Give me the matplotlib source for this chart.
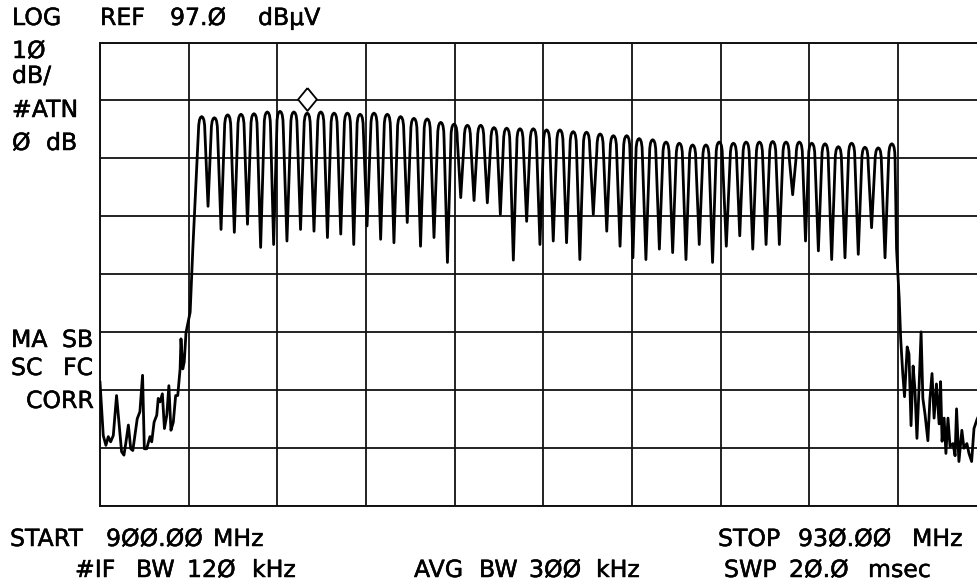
import matplotlib
matplotlib.use("Agg")
import matplotlib.pyplot as plt
import matplotlib.patheffects as pe
from matplotlib.transforms import offset_copy

# spectrum analyser screen: 900-930 MHz, REF 97 dBuV, 10 dB/div
start_mhz, stop_mhz = 900.0, 930.0
ref_level, db_per_div = 97.0, 10.0

# channel peaks (MHz, dBuV)
peak_freq = [903.44, 903.87, 904.32, 904.77, 905.21, 905.66, 906.09, 906.56, 907.01, 907.47,
             907.92, 908.37, 908.80, 909.27, 909.72, 910.17, 910.62, 911.07, 911.53, 911.98,
             912.43, 912.88, 913.33, 913.76, 914.21, 914.66, 915.11, 915.56, 916.01, 916.46,
             916.92, 917.37, 917.82, 918.24, 918.70, 919.15, 919.60, 920.05, 920.50, 920.95,
             921.43, 921.86, 922.31, 922.76, 923.21, 923.66, 924.08, 924.53, 924.98, 925.43,
             925.88, 926.33, 926.79]
peak_level = [84.2, 84.0, 84.5, 84.6, 84.7, 85.0, 85.1, 85.0, 84.8, 85.0,
              84.8, 84.8, 84.6, 84.8, 84.6, 84.2, 83.9, 83.8, 83.2, 82.9,
              82.7, 82.7, 82.3, 82.2, 82.1, 82.1, 81.9, 81.9, 81.6, 81.5,
              81.2, 80.9, 80.9, 80.4, 80.2, 79.8, 79.6, 79.3, 79.3, 79.8,
              79.6, 79.8, 79.8, 79.9, 79.8, 79.8, 79.6, 79.5, 79.0, 79.6,
              78.9, 78.8, 79.5]
# dips between neighbouring channels
trough_level = [68.7, 64.7, 64.2, 65.6, 61.6, 62.1, 62.7, 64.7, 64.4, 63.3,
                63.9, 62.1, 65.3, 63.0, 62.4, 65.9, 61.8, 63.3, 59.0, 70.2,
                69.7, 69.3, 67.3, 59.4, 66.1, 62.1, 62.7, 62.4, 59.5, 67.3,
                64.4, 61.8, 59.8, 59.5, 61.3, 60.7, 59.5, 62.1, 59.0, 61.8,
                63.6, 61.3, 62.1, 62.1, 70.7, 62.7, 61.0, 59.5, 59.8, 60.4,
                65.0, 59.8]

# noise floor below and above the band
left_freq = [900.00, 900.11, 900.20, 900.28, 900.36, 900.45, 900.56, 900.64, 900.73, 900.81,
             900.88, 900.96, 901.04, 901.11, 901.18, 901.26, 901.35, 901.44, 901.50, 901.58,
             901.69, 901.75, 901.83, 901.92, 901.97, 902.03, 902.11, 902.18, 902.26, 902.33,
             902.40, 902.48, 902.56, 902.63, 902.71, 902.74, 902.80, 902.85, 902.91, 902.97,
             903.05, 903.10, 903.14]
left_level = [38.3, 29.1, 27.4, 28.9, 28.0, 29.1, 36.0, 31.4, 26.3, 25.7,
              28.0, 30.9, 26.8, 26.5, 29.1, 32.0, 33.2, 39.5, 26.8, 26.8,
              28.9, 28.0, 31.4, 32.6, 35.5, 34.9, 36.3, 30.3, 32.6, 37.7,
              30.0, 31.4, 36.0, 36.0, 40.6, 45.8, 40.6, 41.8, 46.9, 48.4,
              50.4, 56.7, 61.3]
right_freq = [926.95, 927.04, 927.09, 927.16, 927.22, 927.31, 927.37, 927.44, 927.51, 927.57,
              927.64, 927.71, 927.78, 927.84, 927.91, 928.01, 928.08, 928.15, 928.22, 928.30,
              928.39, 928.44, 928.49, 928.56, 928.62, 928.69, 928.76, 928.86, 928.93, 928.98,
              929.06, 929.16, 929.23, 929.33, 929.40, 929.49, 929.57, 929.66, 929.71]
right_level = [61.3, 52.7, 45.8, 39.8, 35.8, 44.4, 43.2, 30.8, 41.1, 37.2,
               28.6, 37.2, 47.0, 35.5, 32.9, 28.2, 35.5, 39.8, 32.1, 38.0,
               31.1, 38.4, 28.1, 32.1, 26.0, 32.1, 27.2, 27.7, 25.6, 33.7,
               24.6, 30.0, 26.9, 27.7, 26.0, 24.6, 30.3, 31.7, 32.3]

marker_channel = 8  # the diamond sits over the 9th channel

# rounded top of each channel (offset MHz, drop dB)
cap_df = [-0.11, -0.10, -0.075, -0.04, 0.0, 0.04, 0.075, 0.10, 0.11]
cap_drop = [2.8, 1.5, 0.6, 0.15, 0.0, 0.15, 0.6, 1.5, 2.8]

trace_f = list(left_freq)
trace_l = list(left_level)
for i, (f, lvl) in enumerate(zip(peak_freq, peak_level)):
    for df, dd in zip(cap_df, cap_drop):
        trace_f.append(f + df)
        trace_l.append(lvl - dd)
    if i < len(trough_level):
        trace_f.append((f + peak_freq[i + 1]) / 2)
        trace_l.append(trough_level[i])
trace_f += right_freq
trace_l += right_level

W, H = 978, 585
fig = plt.figure(figsize=(W / 100, H / 100), dpi=100)
fig.patch.set_facecolor("white")

# screen graticule: left 100px, 88.67px per division (runs past the right edge)
ax_left, ax_top, ax_bottom = 100, 42.5, 505.5
ax = fig.add_axes([ax_left / W, 1 - ax_bottom / H, 10 * 88.67 / W, (ax_bottom - ax_top) / H])
ax.set_xlim(start_mhz, stop_mhz)
ax.set_ylim(ref_level - 8 * db_per_div, ref_level)
ax.set_xticks([start_mhz + 3 * k for k in range(11)])
ax.set_yticks([ref_level - db_per_div * k for k in range(9)])
ax.tick_params(length=0, labelbottom=False, labelleft=False)
ax.grid(True, color="#111111", lw=1.3)
for s in ax.spines.values():
    s.set_linewidth(1.4)
    s.set_color("#111111")

ax.plot(trace_f, trace_l, color="black", lw=2.0, solid_joinstyle="round", zorder=3)

# marker diamond just above the marked peak
diamond = [(0, 1), (0.82, 0), (0, -1), (-0.82, 0), (0, 1)]
mk_trans = offset_copy(ax.transData, fig=fig, y=14, units="dots")
ax.plot([peak_freq[marker_channel]], [peak_level[marker_channel]], marker=diamond,
        ms=16.5, mfc="white", mec="black", mew=1.3, transform=mk_trans, zorder=4)

# plotter-style lettering is a touch heavier than plain DejaVu
heavy = [pe.withStroke(linewidth=0.35, foreground="black")]

# annotation text, placed word by word in screen pixels (x, baseline y)
def put(x, y, s):
    fig.text(x / W, 1 - y / H, s, fontsize=17, family="DejaVu Sans",
             va="baseline", ha="left", color="black", path_effects=heavy)

for x, y, s in [(12, 25, "LOG"), (100, 25, "REF"), (170, 25, "97.Ø"), (258, 25, "dBµV"),
                (12, 58, "1Ø"), (12, 83, "dB/"), (12, 117, "#ATN"),
                (12, 150, "Ø"), (46, 150, "dB"),
                (11, 347, "MA"), (62, 347, "SB"), (11, 375, "SC"), (63, 375, "FC"),
                (26, 408, "CORR"),
                (10, 546, "START"), (106, 546, "9ØØ.ØØ"), (213, 546, "MHz"),
                (718, 546, "STOP"), (798, 546, "93Ø.ØØ"), (912, 546, "MHz"),
                (75, 577, "#IF"), (136, 577, "BW"), (187, 577, "12Ø"), (252, 577, "kHz"),
                (414, 577, "AVG"), (479, 577, "BW"), (529, 577, "3ØØ"), (596, 577, "kHz"),
                (724, 577, "SWP"), (789, 577, "2Ø.Ø"), (868, 577, "msec")]:
    put(x, y, s)

fig.savefig("out.png", dpi=100, facecolor="white")
